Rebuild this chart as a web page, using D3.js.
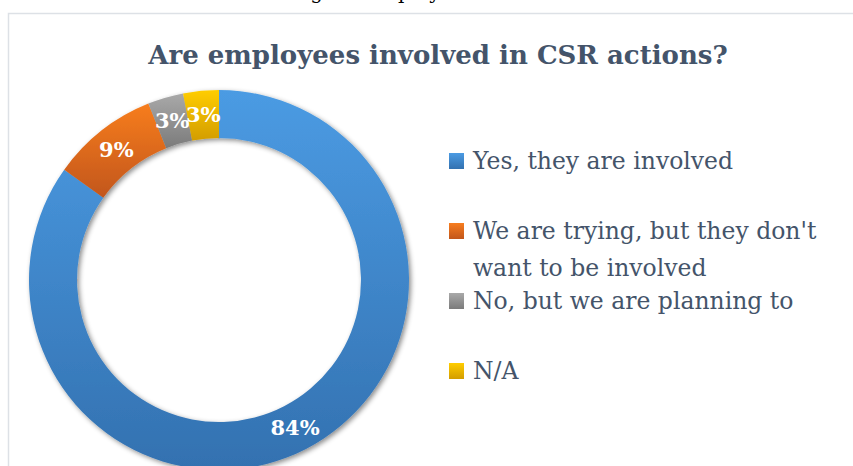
<!DOCTYPE html>
<html>
<head>
<meta charset="utf-8">
<script src="https://cdn.jsdelivr.net/npm/d3@7"></script>
<style>
  html, body { margin: 0; padding: 0; background: #ffffff; overflow: hidden; }
  svg { display: block; }
</style>
</head>
<body>
<svg id="chart" width="853" height="466"></svg>
<script>
// Survey answers and their shares (percent)
const categories = [
  "Yes, they are involved",
  "We are trying, but they don't want to be involved",
  "No, but we are planning to",
  "N/A"
];
const values = [84, 9, 3, 3];
const colorsLight = ["#4b9be3", "#f77d1f", "#a9a9a9", "#ffcd00"];
const colorsDark  = ["#3371b0", "#c2561b", "#7b7b7b", "#d39d00"];

const chartTitle = "Are employees involved in CSR actions?";
const captionHead = "Involving";
const captionTail = "the employees in CSR actions";

const W = 853, H = 466;
const svg = d3.select("#chart");
const SERIF = "'Palatino Linotype','Book Antiqua',Palatino,'DejaVu Serif',serif";

const defs = svg.append("defs");
categories.forEach((c, i) => {
  const g = defs.append("linearGradient")
    .attr("id", "grad" + i)
    .attr("x1", 0).attr("y1", 0).attr("x2", 0).attr("y2", 1);
  g.append("stop").attr("offset", "0%").attr("stop-color", colorsLight[i]);
  g.append("stop").attr("offset", "100%").attr("stop-color", colorsDark[i]);
});
const shadow = defs.append("filter").attr("id", "ringShadow")
  .attr("x", "-20%").attr("y", "-20%").attr("width", "140%").attr("height", "140%");
shadow.append("feDropShadow")
  .attr("dx", 2).attr("dy", 2).attr("stdDeviation", 2.5)
  .attr("flood-color", "#000").attr("flood-opacity", 0.45);

// Caption line of the surrounding document; only its descenders reach the page
const caption = svg.append("g")
  .attr("font-family", SERIF).attr("font-size", 20).attr("fill", "#000");
caption.append("text").attr("x", 323).attr("y", -1)
  .attr("text-anchor", "end").text(captionHead);
caption.append("text").attr("x", 328).attr("y", -1)
  .attr("text-anchor", "start").text(captionTail);

// Chart frame
svg.append("rect")
  .attr("x", 8.5).attr("y", 13.5)
  .attr("width", W + 20).attr("height", H + 20)
  .attr("fill", "#fff")
  .attr("stroke", "#dde1e6").attr("stroke-width", 1.5);

// Title
svg.append("text")
  .attr("x", 438).attr("y", 64)
  .attr("text-anchor", "middle")
  .attr("font-family", SERIF)
  .attr("font-weight", "bold")
  .attr("font-size", 26)
  .attr("fill", "#44546a")
  .text(chartTitle);

// Donut
const cx = 219, cy = 280, rOuter = 190, rInner = 142;
const pie = d3.pie().sort(null).value(d => d)(values);
const arc = d3.arc().innerRadius(rInner).outerRadius(rOuter);
const color = d3.scaleOrdinal().domain(d3.range(categories.length))
  .range(d3.range(categories.length).map(i => `url(#grad${i})`));

const ring = svg.append("g").attr("transform", `translate(${cx},${cy})`);
ring.append("g").attr("filter", "url(#ringShadow)")
  .selectAll("path").data(pie).join("path")
  .attr("d", arc)
  .attr("fill", (d, i) => color(i));

ring.selectAll("text.lbl").data(pie).join("text")
  .attr("class", "lbl")
  .attr("transform", d => `translate(${arc.centroid(d)})`)
  .attr("text-anchor", "middle")
  .attr("dy", "0.36em")
  .attr("font-family", SERIF)
  .attr("font-weight", "bold")
  .attr("font-size", 21)
  .attr("fill", "#ffffff")
  .text(d => d.data + "%");

// Legend
const legendY = d3.scaleLinear().domain([0, 1]).range([169, 239]);
const legend = svg.append("g");
const maxTextW = 355, lineGap = 37;
categories.forEach((c, i) => {
  const y = legendY(i);
  legend.append("rect")
    .attr("x", 449).attr("y", y - 16)
    .attr("width", 15).attr("height", 16)
    .attr("fill", color(i));
  const t = legend.append("text")
    .attr("x", 473).attr("y", y)
    .attr("font-family", SERIF)
    .attr("font-size", 23.5)
    .attr("fill", "#44546a");
  // wrap long entries onto extra lines
  const words = c.split(" ");
  let line = [];
  let tspan = t.append("tspan").attr("x", 473).attr("y", y);
  let lineNo = 0;
  words.forEach(w => {
    line.push(w);
    tspan.text(line.join(" "));
    if (tspan.node().getComputedTextLength() > maxTextW && line.length > 1) {
      line.pop();
      tspan.text(line.join(" "));
      line = [w];
      lineNo++;
      tspan = t.append("tspan").attr("x", 473).attr("y", y + lineNo * lineGap).text(w);
    }
  });
});
</script>
</body>
</html>
